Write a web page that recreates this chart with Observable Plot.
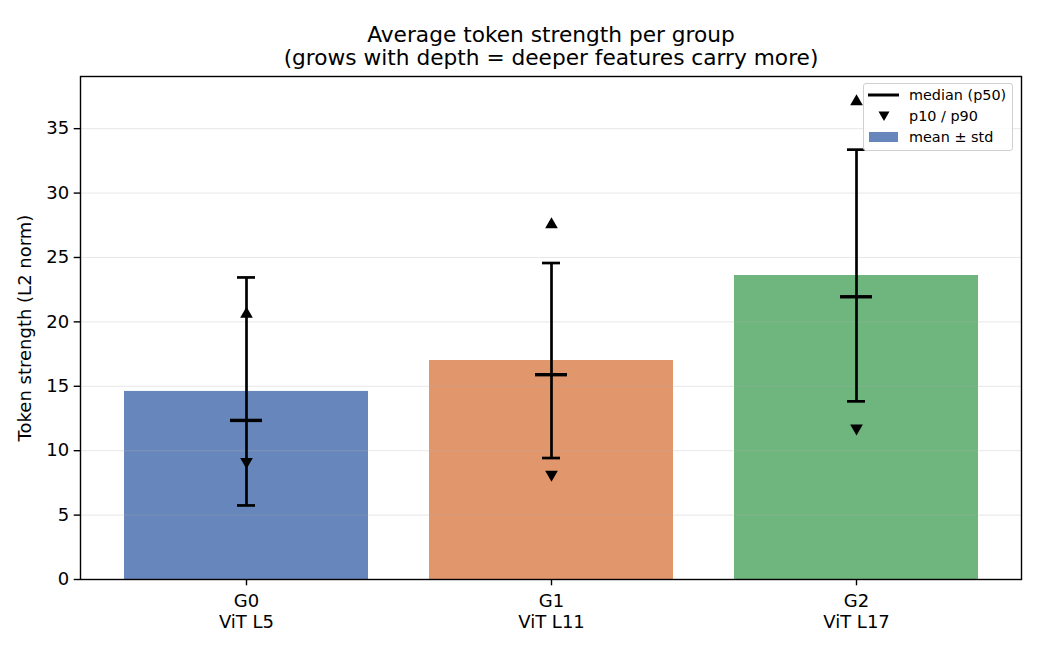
<!DOCTYPE html>
<html>
<head>
<meta charset="utf-8">
<script src="https://cdn.jsdelivr.net/npm/d3@7"></script>
<script src="https://cdn.jsdelivr.net/npm/@observablehq/plot@0.6"></script>
<style>
  body { margin: 0; background: #fff; font-family: "DejaVu Sans", sans-serif; }
  #wrap { position: relative; width: 1040px; height: 650px; }
  #legend { position: absolute; left: 863px; top: 83px; width: 148px; height: 66px;
    border: 1px solid #d0d0d0; border-radius: 3px; background: rgba(255,255,255,0.85);
    font-size: 14.4px; color: #000; }
  .row { position: absolute; left: 0; height: 20px; display: flex; align-items: center; white-space: nowrap; }
  .row svg { width: 40px; height: 20px; }
  .row span { margin-left: 5px; }
</style>
</head>
<body>
<div id="wrap"></div>
<script>
const groups = ["G0", "G1", "G2"];
const layers = ["ViT L5", "ViT L11", "ViT L17"];
const means = [14.6, 17.0, 23.6];
const stds = [8.85, 7.57, 9.77];
const medians = [12.35, 15.9, 21.95];
const p10 = [9.15, 8.15, 11.75];
const p90 = [20.6, 27.55, 37.1];
const colors = ["#6787BC", "#E2966C", "#6EB57E"];
const yTicks = [0, 5, 10, 15, 20, 25, 30, 35];

const data = groups.map((g, i) => ({
  group: g, layer: layers[i], mean: means[i], std: stds[i],
  lo: means[i] - stds[i], hi: means[i] + stds[i],
  median: medians[i], p10: p10[i], p90: p90[i]
}));
const labelOf = Object.fromEntries(groups.map((g, i) => [g, g + "\n" + layers[i]]));

const chart = Plot.plot({
  width: 1040, height: 650,
  marginLeft: 80, marginRight: 19, marginTop: 76, marginBottom: 71,
  style: { fontFamily: "DejaVu Sans, sans-serif", fontSize: "18px", color: "#000", background: "#fff" },
  x: { type: "band", domain: groups, paddingInner: 0.2, paddingOuter: 0.14, align: 0.5 },
  y: { domain: [0, 39.05] },
  color: { domain: groups, range: colors },
  marks: [
    Plot.barY(data, { x: "group", y: "mean", fill: "group" }),
    Plot.ruleY(yTicks, { stroke: "#b0b0b0", strokeOpacity: 0.3, strokeWidth: 1 }),
    Plot.ruleX(data, { x: "group", y1: "lo", y2: "hi", stroke: "#000", strokeWidth: 2.7 }),
    Plot.tickY(data, { x: "group", y: "lo", stroke: "#000", strokeWidth: 2.7, insetLeft: 113, insetRight: 113 }),
    Plot.tickY(data, { x: "group", y: "hi", stroke: "#000", strokeWidth: 2.7, insetLeft: 113, insetRight: 113 }),
    Plot.tickY(data, { x: "group", y: "median", stroke: "#000", strokeWidth: 3.4, insetLeft: 106, insetRight: 106 }),
    Plot.dot(data, { x: "group", y: "p90", symbol: "triangle", r: 4.7, fill: "#000", stroke: "none" }),
    Plot.dot(data, { x: "group", y: "p10", symbol: "triangle", rotate: 180, r: 4.7, fill: "#000", stroke: "none" }),
    Plot.frame({ stroke: "#000", strokeWidth: 1.4 }),
    Plot.axisY({ ticks: yTicks, tickSize: 6.3, tickPadding: 5, fontSize: 18, strokeWidth: 1.4,
      label: "Token strength (L2 norm)", labelAnchor: "center", labelArrow: "none", labelOffset: 62 }),
    Plot.axisX({ tickSize: 6.3, tickPadding: 6, fontSize: 18, lineHeight: 1.17, strokeWidth: 1.4,
      tickFormat: d => labelOf[d], label: null }),
    Plot.text(["Average token strength per group"], { frameAnchor: "top", dy: -41, fontSize: 21.7, lineAnchor: "middle", fill: "#000" }),
    Plot.text(["(grows with depth = deeper features carry more)"], { frameAnchor: "top", dy: -18, fontSize: 21.7, lineAnchor: "middle", fill: "#000" })
  ]
});
const wrap = document.getElementById("wrap");
wrap.appendChild(chart);

const legend = document.createElement("div");
legend.id = "legend";
legend.innerHTML = `
  <div class="row" style="top:1px"><svg><line x1="4" x2="35" y1="10" y2="10" stroke="#000" stroke-width="3"/></svg><span>median (p50)</span></div>
  <div class="row" style="top:22px"><svg><path d="M14.5,5.5 L25.5,5.5 L20,15 Z" fill="#000"/></svg><span>p10 / p90</span></div>
  <div class="row" style="top:43px"><svg><rect x="5" y="5" width="29" height="10" fill="#6787BC"/></svg><span>mean ± std</span></div>`;
wrap.appendChild(legend);
</script>
</body>
</html>
